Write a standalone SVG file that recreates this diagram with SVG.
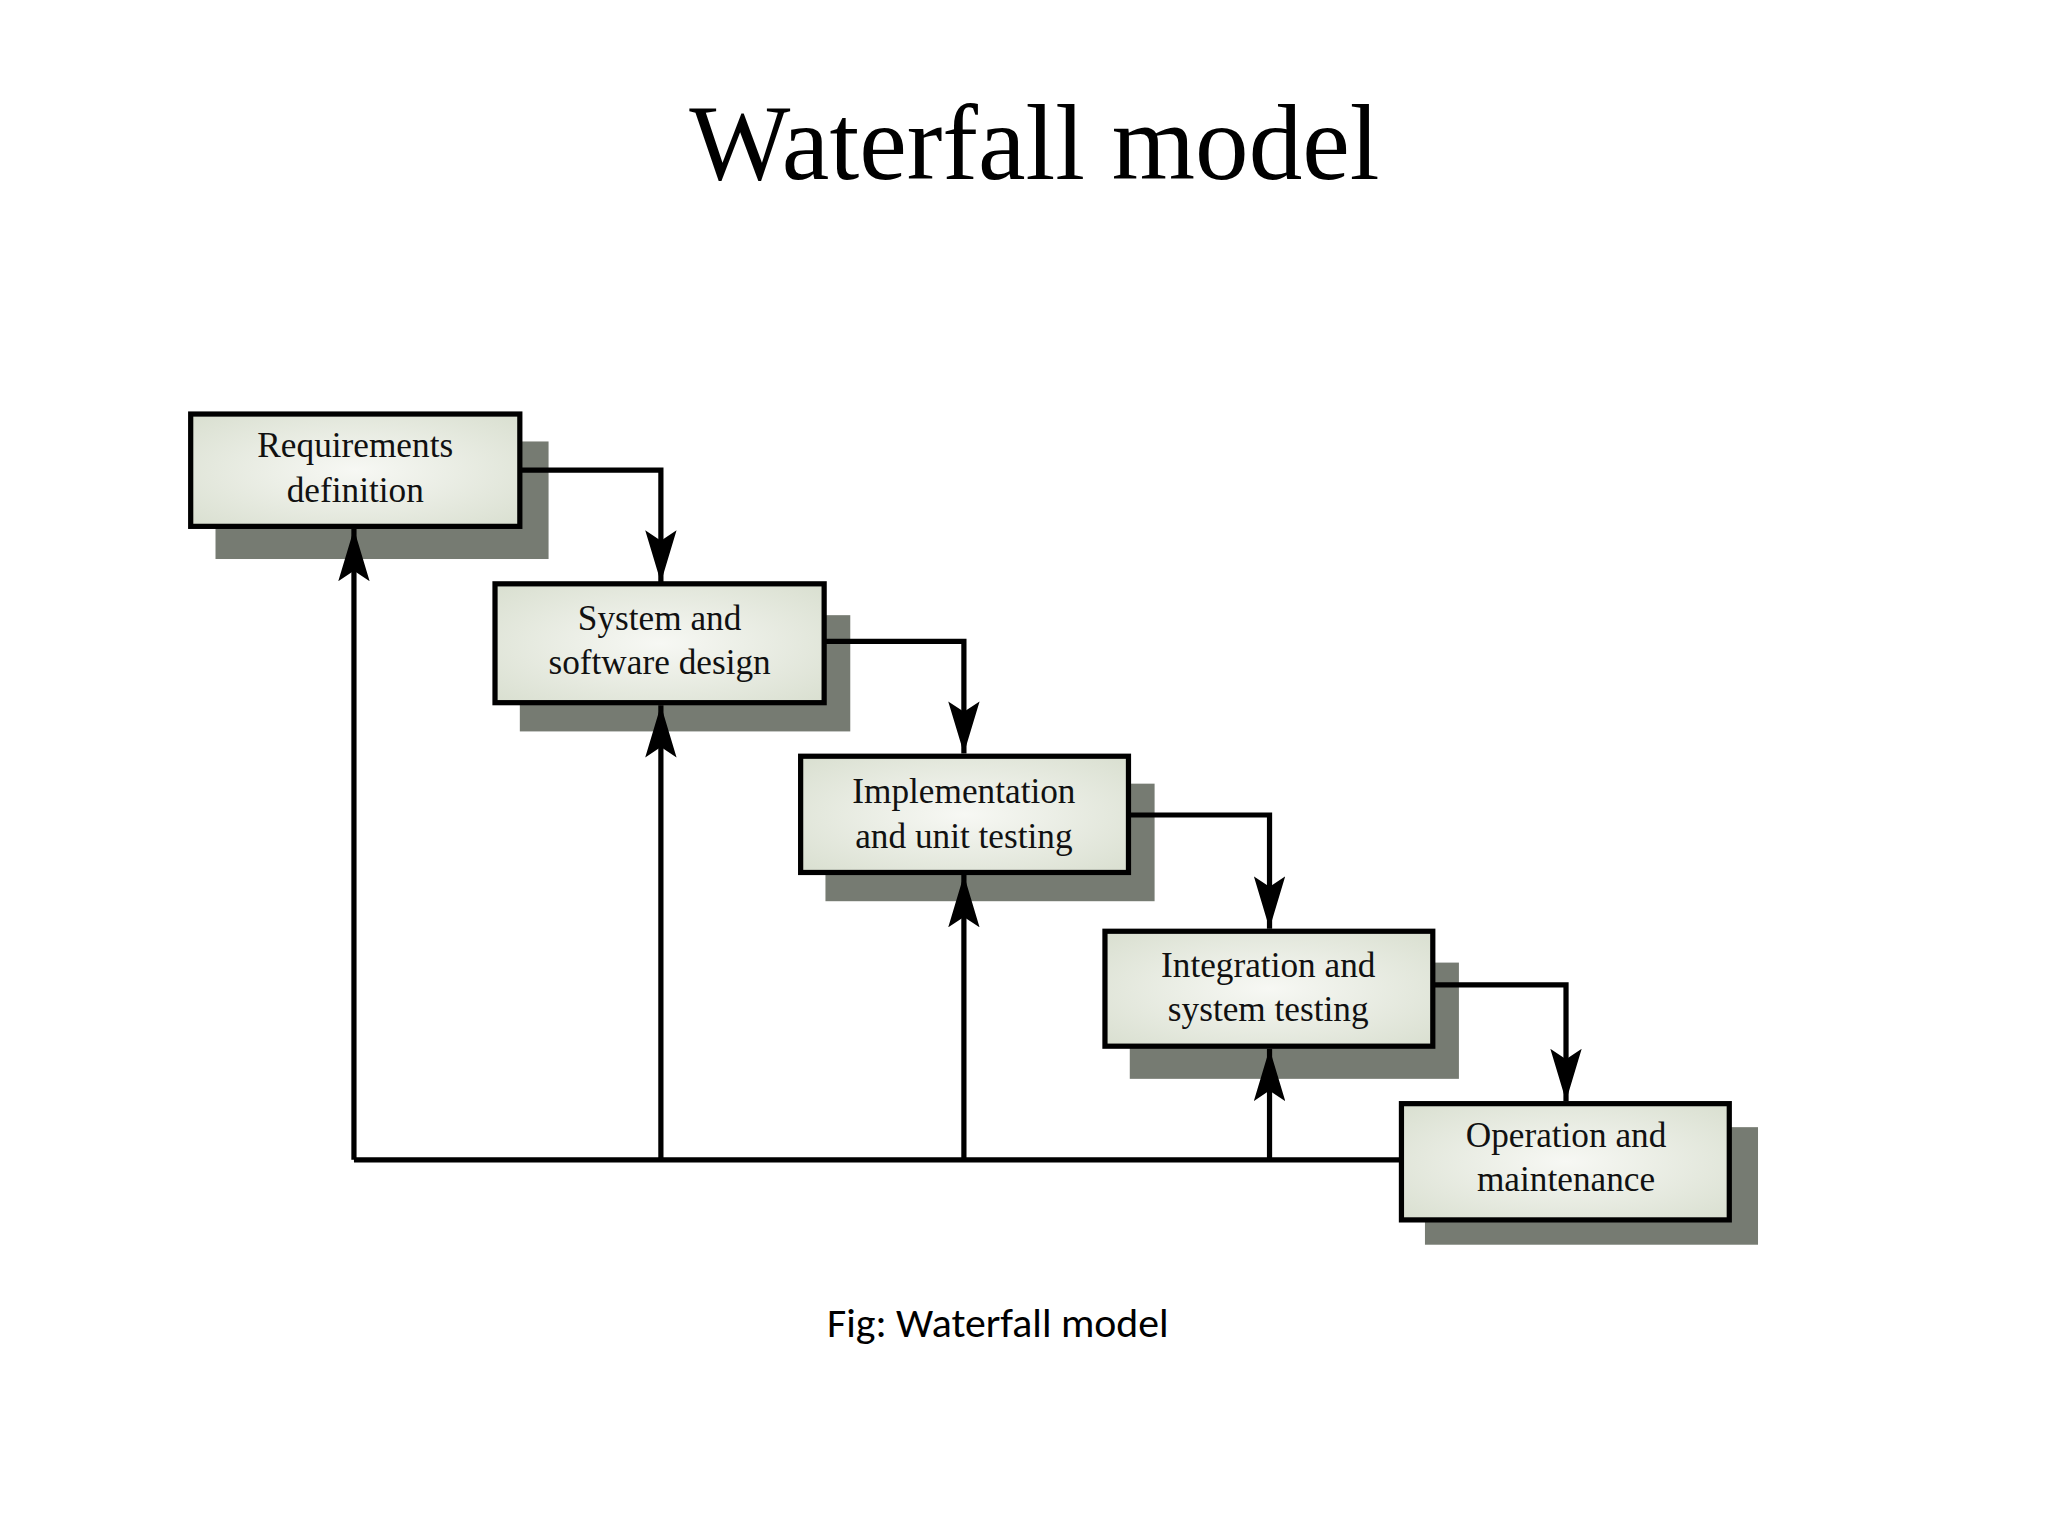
<svg xmlns="http://www.w3.org/2000/svg" width="2048" height="1536" viewBox="0 0 2048 1536">
<style>
.sh{fill:#767b72}
.bx{fill:url(#g);stroke:#000;stroke-width:4}
.t{font-family:"Liberation Serif",serif;font-size:27px;text-anchor:middle;fill:#111}
.c{fill:none;stroke:#000;stroke-width:4}
</style>
<defs>
<radialGradient id="g" cx="0.5" cy="0.5" r="0.7"><stop offset="0" stop-color="#f7f8f4"/><stop offset="1" stop-color="#d9dfd0"/></radialGradient>
<marker id="a" viewBox="0 0 10 20" refX="10" refY="10" markerWidth="5" markerHeight="10" markerUnits="userSpaceOnUse" orient="auto"><path d="M0,0 L10,10 L0,20 L3,10 Z" fill="#000"/></marker>
<marker id="b" viewBox="0 0 40 24" refX="40" refY="12" markerWidth="40" markerHeight="24" markerUnits="userSpaceOnUse" orient="auto"><path d="M0,0 L40,12 L0,24 L8,12 Z" fill="#000"/></marker>
</defs>
<rect width="2048" height="1536" fill="#fff"/>
<g transform="scale(1.3061)">
<text x="792" y="137" font-family="Liberation Serif,serif" font-size="82" text-anchor="middle">Waterfall model</text>
<text x="764" y="1024" font-family="Carlito,Liberation Sans,sans-serif" font-size="32" text-anchor="middle">Fig: Waterfall model</text>
<g id="n1"><rect class="sh" x="165" y="338" width="255" height="90"/><rect class="bx" x="146" y="317" width="252" height="86"/><text class="t" x="272" y="350">Requirements</text><text class="t" x="272" y="384">definition</text></g>
<g id="n2"><rect class="sh" x="398" y="471" width="253" height="89"/><rect class="bx" x="379" y="447" width="252" height="91"/><text class="t" x="505" y="482">System and</text><text class="t" x="505" y="516">software design</text></g>
<g id="n3"><rect class="sh" x="632" y="600" width="252" height="90"/><rect class="bx" x="613" y="579" width="251" height="89"/><text class="t" x="738" y="615">Implementation</text><text class="t" x="738" y="649">and unit testing</text></g>
<g id="n4"><rect class="sh" x="865" y="737" width="252" height="89"/><rect class="bx" x="846" y="713" width="251" height="88"/><text class="t" x="971" y="748">Integration and</text><text class="t" x="971" y="782">system testing</text></g>
<g id="n5"><rect class="sh" x="1091" y="863" width="255" height="90"/><rect class="bx" x="1073" y="845" width="251" height="89"/><text class="t" x="1199" y="878">Operation and</text><text class="t" x="1199" y="912">maintenance</text></g>
<g id="connectors">
<path class="c" d="M398,360 H506 V446" marker-end="url(#b)"/>
<path class="c" d="M631,491 H738 V577" marker-end="url(#b)"/>
<path class="c" d="M864,624 H972 V711" marker-end="url(#b)"/>
<path class="c" d="M1097,754 H1199 V843" marker-end="url(#b)"/>
<path class="c" d="M1073,888 H271"/>
<path class="c" d="M271,888 V405" marker-end="url(#b)"/>
<path class="c" d="M506,888 V540" marker-end="url(#b)"/>
<path class="c" d="M738,888 V670" marker-end="url(#b)"/>
<path class="c" d="M972,888 V803" marker-end="url(#b)"/>
</g>
</g>
</svg>
